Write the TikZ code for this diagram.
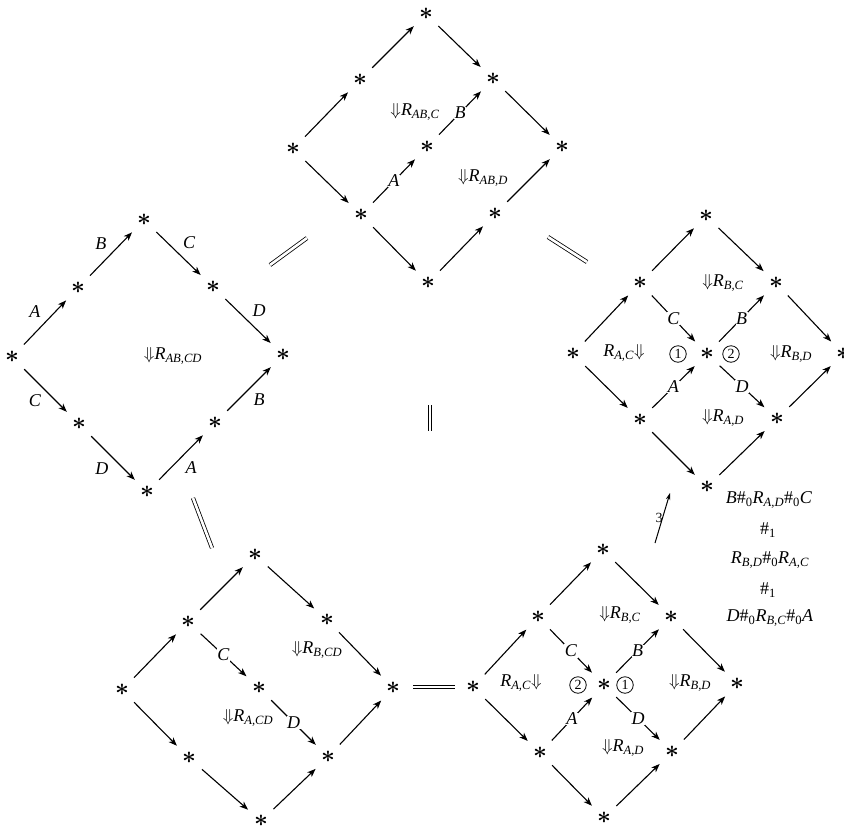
\documentclass[tikz,border=0pt]{standalone}
\usepackage{fontspec}
\setmainfont{Liberation Serif}
\usetikzlibrary{arrows.meta}
\newcommand\RR[1]{\textit{R}\textsubscript{\textit{#1}}}
\newcommand\dn{$\Downarrow$}
\newcommand\hz{\#\textsubscript{0}}
\newcommand\hone{\#\textsubscript{1}}
\newcommand\str{\scalebox{1.4}{\boldmath$\ast$}}
\begin{document}
\begin{tikzpicture}[x=1pt,y=-1pt,
  every node/.style={font=\fontsize{18}{21}\selectfont},
  st/.style={circle,minimum size=30pt,inner sep=0pt},
  ar/.style={-{Stealth[length=8.5pt,width=6.5pt,inset=2.5pt]},line width=1.1pt,shorten <=2pt,shorten >=2pt},
  lab/.style={fill=white,inner sep=0.5pt},
  eq/.style={double,double distance=2.6pt,line width=0.8pt},
  circ/.style={circle,draw,line width=0.8pt,minimum size=16.5pt,inner sep=0pt,font=\fontsize{14}{14}\selectfont},
  ol/.style={inner sep=4pt}]
\useasboundingbox (0,0) rectangle (844,828);

% ---------- left diamond ----------
\node[st] (L1) at (12,357) {\str};
\node[st] (L2) at (78,288) {\str};
\node[st] (L3) at (144,220) {\str};
\node[st] (L4) at (213,287) {\str};
\node[st] (L5) at (283,355) {\str};
\node[st] (L6) at (79,424) {\str};
\node[st] (L7) at (147,492) {\str};
\node[st] (L8) at (215,423) {\str};
\draw[ar] (L1) -- node[ol,above left]{\textit{A}} (L2);
\draw[ar] (L2) -- node[ol,above left]{\textit{B}} (L3);
\draw[ar] (L3) -- node[ol,above right]{\textit{C}} (L4);
\draw[ar] (L4) -- node[ol,above right]{\textit{D}} (L5);
\draw[ar] (L1) -- node[ol,below left]{\textit{C}} (L6);
\draw[ar] (L6) -- node[ol,below left]{\textit{D}} (L7);
\draw[ar] (L7) -- node[ol,below right]{\textit{A}} (L8);
\draw[ar] (L8) -- node[ol,below right]{\textit{B}} (L5);
\node (lL) at (173,356) {\dn\RR{AB,CD}};

% ---------- top diamond ----------
\node[st] (Tl) at (293,149) {\str};
\node[st] (Tul) at (360,80) {\str};
\node[st] (Tt) at (426,14) {\str};
\node[st] (Tur) at (493,79) {\str};
\node[st] (Tr) at (562,147) {\str};
\node[st] (Tc) at (427,147) {\str};
\node[st] (Tll) at (361,215) {\str};
\node[st] (Tlr) at (495,214) {\str};
\node[st] (Tb) at (428,283) {\str};
\draw[ar] (Tl) -- (Tul);
\draw[ar] (Tul) -- (Tt);
\draw[ar] (Tt) -- (Tur);
\draw[ar] (Tur) -- (Tr);
\draw[ar] (Tl) -- (Tll);
\draw[ar] (Tll) -- (Tb);
\draw[ar] (Tb) -- (Tlr);
\draw[ar] (Tlr) -- (Tr);
\draw[ar] (Tll) -- node[lab]{\textit{A}} (Tc);
\draw[ar] (Tc) -- node[lab]{\textit{B}} (Tur);
\node (lT1) at (415,112) {\dn\RR{AB,C}};
\node (lT2) at (483,178) {\dn\RR{AB,D}};

% ---------- right top diamond ----------
\node[st] (Rl) at (573,354) {\str};
\node[st] (Rul) at (640,283) {\str};
\node[st] (Rt) at (706,216) {\str};
\node[st] (Rur) at (776,283) {\str};
\node[st] (Rr) at (843,354) {\str};
\node[st] (Rc) at (707,354) {\str};
\node[st] (Rll) at (640,420) {\str};
\node[st] (Rlr) at (777,419) {\str};
\node[st] (Rb) at (707,487) {\str};
\draw[ar] (Rl) -- (Rul);
\draw[ar] (Rul) -- (Rt);
\draw[ar] (Rt) -- (Rur);
\draw[ar] (Rur) -- (Rr);
\draw[ar] (Rl) -- (Rll);
\draw[ar] (Rll) -- (Rb);
\draw[ar] (Rb) -- (Rlr);
\draw[ar] (Rlr) -- (Rr);
\draw[ar] (Rul) -- node[lab]{\textit{C}} (Rc);
\draw[ar] (Rll) -- node[lab]{\textit{A}} (Rc);
\draw[ar] (Rc) -- node[lab]{\textit{B}} (Rur);
\draw[ar] (Rc) -- node[lab]{\textit{D}} (Rlr);
\node[circ] (Rc1) at (678,354) {1};
\node[circ] (Rc2) at (731,354) {2};
\node (lR1) at (624,353) {\RR{A,C}\dn};
\node (lR2) at (723,283) {\dn\RR{B,C}};
\node (lR3) at (791,354) {\dn\RR{B,D}};
\node (lR4) at (723,418) {\dn\RR{A,D}};

% ---------- bottom left diamond ----------
\node[st] (Pl) at (122,690) {\str};
\node[st] (Pul) at (188,622) {\str};
\node[st] (Pt) at (255,555) {\str};
\node[st] (Pur) at (327,620) {\str};
\node[st] (Pr) at (393,688) {\str};
\node[st] (Pc) at (259,688) {\str};
\node[st] (Pll) at (189,758) {\str};
\node[st] (Plr) at (328,757) {\str};
\node[st] (Pb) at (261,821) {\str};
\draw[ar] (Pl) -- (Pul);
\draw[ar] (Pul) -- (Pt);
\draw[ar] (Pt) -- (Pur);
\draw[ar] (Pur) -- (Pr);
\draw[ar] (Pl) -- (Pll);
\draw[ar] (Pll) -- (Pb);
\draw[ar] (Pb) -- (Plr);
\draw[ar] (Plr) -- (Pr);
\draw[ar] (Pul) -- node[lab]{\textit{C}} (Pc);
\draw[ar] (Pc) -- node[lab]{\textit{D}} (Plr);
\node (lP1) at (317,650) {\dn\RR{B,CD}};
\node (lP2) at (248,718) {\dn\RR{A,CD}};

% ---------- bottom right diamond ----------
\node[st] (Ql) at (473,687) {\str};
\node[st] (Qul) at (538,617) {\str};
\node[st] (Qt) at (603,550) {\str};
\node[st] (Qur) at (671,617) {\str};
\node[st] (Qr) at (737,684) {\str};
\node[st] (Qc) at (604,685) {\str};
\node[st] (Qll) at (540,753) {\str};
\node[st] (Qlr) at (672,752) {\str};
\node[st] (Qb) at (604,818) {\str};
\draw[ar] (Ql) -- (Qul);
\draw[ar] (Qul) -- (Qt);
\draw[ar] (Qt) -- (Qur);
\draw[ar] (Qur) -- (Qr);
\draw[ar] (Ql) -- (Qll);
\draw[ar] (Qll) -- (Qb);
\draw[ar] (Qb) -- (Qlr);
\draw[ar] (Qlr) -- (Qr);
\draw[ar] (Qul) -- node[lab]{\textit{C}} (Qc);
\draw[ar] (Qll) -- node[lab]{\textit{A}} (Qc);
\draw[ar] (Qc) -- node[lab]{\textit{B}} (Qur);
\draw[ar] (Qc) -- node[lab]{\textit{D}} (Qlr);
\node[circ] (Qc2) at (578,685) {2};
\node[circ] (Qc1) at (625,685) {1};
\node (lQ1) at (521,683) {\RR{A,C}\dn};
\node (lQ2) at (620,615) {\dn\RR{B,C}};
\node (lQ3) at (690,683) {\dn\RR{B,D}};
\node (lQ4) at (623,748) {\dn\RR{A,D}};

% ---------- equalities ----------
\coordinate (e1a) at (270,265); \coordinate (e1b) at (307,238);
\draw[eq] (e1a) -- (e1b);
\coordinate (e2a) at (548,237); \coordinate (e2b) at (587,262);
\draw[eq] (e2a) -- (e2b);
\coordinate (e3a) at (430,405); \coordinate (e3b) at (430,431);
\draw[eq] (e3a) -- (e3b);
\coordinate (e4a) at (193,498); \coordinate (e4b) at (212,548);
\draw[eq] (e4a) -- (e4b);
\coordinate (e5a) at (413,687); \coordinate (e5b) at (455,687);
\draw[eq] (e5a) -- (e5b);

% ---------- 3-arrow ----------
\coordinate (t1) at (655,543); \coordinate (t2) at (670,493);
\draw[-{Stealth[length=7pt,width=4.5pt]},line width=1pt] (t1) -- node[left=-4pt,pos=0.5,font=\fontsize{14}{14}\selectfont]{3} (t2);

% ---------- right text ----------
\node (x1) at (769,500) {\textit{B}\hz\RR{A,D}\hz\textit{C}};
\node (x2) at (768,530) {\hone};
\node (x3) at (770,560) {\RR{B,D}\hz\RR{A,C}};
\node (x4) at (768,590) {\hone};
\node (x5) at (770,618) {\textit{D}\hz\RR{B,C}\hz\textit{A}};
\end{tikzpicture}
\end{document}
